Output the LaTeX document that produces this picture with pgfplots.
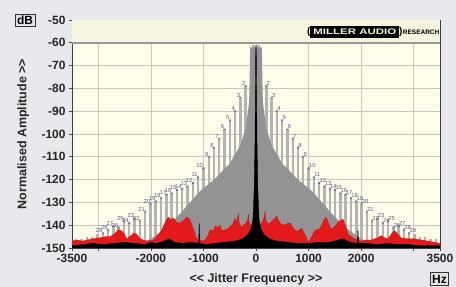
\documentclass[border=0pt]{standalone}
\usepackage{pgfplots}
\pgfplotsset{compat=1.18}
\usepackage{fontspec}
\setmainfont{Liberation Sans}
\definecolor{bgc}{HTML}{E9E9ED}
\definecolor{cream}{HTML}{FFFDEA}
\definecolor{hdr}{HTML}{F6F4DE}
\definecolor{gridc}{HTML}{C8C8C2}
\definecolor{spk}{HTML}{B3B3B3}
\definecolor{midg}{HTML}{939393}
\definecolor{redc}{HTML}{E3191C}
\definecolor{lbl}{HTML}{5A5A92}

\pgfplotstableread{
x y e
-3420 -146 4
-3319 -146 4
-3218 -145 5
-3117 -145 5
-3016 -144 6
-2915 -143.5 6.5
-2814 -142 8
-2713 -140.5 9.5
-2613 -141 9
-2512 -138 12
-2411 -139 11
-2311 -137 13
-2210 -138 12
-2109 -134 16
-2008 -130.5 19.5
-1908 -129.5 20.5
-1807 -128 22
-1705 -126.5 23.5
-1604 -126 24
-1505 -124.5 25.5
-1404 -124 26
-1304 -123 27
-1203 -121.5 28.5
-1102 -119 31
-1002 -115 35
-899 -110 40
-800 -106 44
-699 -102 48
-599 -98 52
-498 -94 56
-397 -90 60
-297 -84 66
-196 -79 71
-100 -63 87
-45 -61 89
45 -61 89
100 -63 87
196 -79 71
297 -84 66
397 -90 60
498 -94 56
599 -98 52
699 -102 48
800 -106 44
899 -110 40
1002 -115 35
1102 -119 31
1203 -121.5 28.5
1304 -123 27
1404 -124 26
1505 -124.5 25.5
1604 -126 24
1705 -126.5 23.5
1807 -128 22
1908 -129.5 20.5
2008 -130.5 19.5
2109 -134 16
2210 -138 12
2311 -137 13
2411 -139 11
2512 -138 12
2613 -141 9
2713 -140.5 9.5
2814 -142 8
2915 -143.5 6.5
3016 -144 6
3117 -145 5
3218 -145 5
3319 -146 4
3420 -146 4
}\spikes

\pgfplotstableread{
x y n
-2915 -143.5 29
-2814 -142 28
-2713 -140.5 27
-2613 -141 26
-2512 -138 25
-2411 -139 24
-2311 -137 23
-2210 -138 22
-2109 -134 21
-2008 -130.5 20
-1908 -129.5 19
-1807 -128 18
-1705 -126.5 17
-1604 -126 16
-1505 -124.5 15
-1404 -124 14
-1304 -123 13
-1203 -121.5 12
-1102 -119 11
-1002 -115 10
-899 -110 9
-800 -106 8
-699 -102 7
-599 -98 6
-498 -94 5
-397 -90 4
-297 -84 3
-196 -79 2
}\leftlabels

\pgfplotstableread{
x y n
196 -79 2
297 -84 3
397 -90 4
498 -94 5
599 -98 6
699 -102 7
800 -106 8
899 -110 9
1002 -115 10
1102 -119 11
1203 -121.5 12
1304 -123 13
1404 -124 14
1505 -124.5 15
1604 -126 16
1705 -126.5 17
1807 -128 18
1908 -129.5 19
2008 -130.5 20
2109 -134 21
2210 -138 22
2311 -137 23
2411 -139 24
2512 -138 25
2613 -141 26
2713 -140.5 27
2814 -142 28
2915 -143.5 29
}\rightlabels

\pgfplotstableread{
x y
-2600 -151
-2300 -149
-2000 -146
-1700 -141
-1445 -135
-1065 -125
-800 -120
-500 -113
-300 -105
-200 -98
-130 -86
-110 -62
110 -62
130 -86
200 -98
300 -105
500 -113
800 -120
1065 -125
1445 -135
1700 -141
2000 -146
2300 -149
2600 -151
}\midfill

\pgfplotstableread{
x y
-3500 -151
-3500 -147
-3400 -146.5
-3300 -147
-3220 -146.5
-3100 -146
-2966 -145.5
-2850 -145
-2776 -145
-2700 -144
-2617 -142
-2554 -142.5
-2500 -144
-2459 -146
-2400 -145
-2332 -143.5
-2269 -144
-2200 -146
-2079 -147
-1950 -146.5
-1888 -145
-1800 -142.5
-1762 -140.5
-1700 -137.5
-1667 -136.5
-1620 -137.5
-1572 -137
-1500 -139
-1445 -139
-1380 -138
-1318 -136.5
-1270 -137
-1223 -139.5
-1170 -143
-1128 -146
-1001 -147
-950 -146
-906 -144.3
-875 -142
-811 -142.5
-780 -140.5
-720 -141
-684 -140
-652 -142.5
-589 -142
-532 -141.5
-494 -140.7
-440 -139.5
-399 -137
-370 -139
-336 -135
-320 -139
-280 -141
-241 -140
-190 -139
-160 -138
-146 -135
-130 -139
-100 -140
-51 -140
0 -140
40 -140
76 -140
120 -138.5
150 -137
171 -134
190 -138
230 -139.5
266 -139
320 -138
360 -137
393 -136
430 -138
470 -139.5
520 -140
580 -139.5
646 -139
700 -141
773 -142.8
830 -142
868 -141.4
930 -144
995 -147.5
1020 -146.8
1070 -144.5
1115 -142.4
1160 -142
1210 -141.7
1270 -139
1310 -137
1337 -136.5
1380 -139
1432 -142
1500 -140.5
1559 -138.7
1610 -138
1654 -137.3
1700 -140
1749 -143.9
1810 -145
1876 -146
2002 -147
2100 -146.5
2200 -146.5
2256 -146
2320 -145.5
2382 -144.6
2440 -145.5
2509 -146
2570 -144
2636 -142.4
2700 -144
2762 -145.6
2900 -146
3017 -146
3150 -146.5
3270 -147
3400 -147.5
3500 -148
3500 -151
}\redfill

\pgfplotstableread{
x y
-3500 -151
-3500 -149
-3300 -148.5
-3100 -148
-2900 -148.5
-2700 -148
-2500 -147.5
-2300 -148
-2100 -148.5
-2000 -147.5
-1900 -148
-1750 -147
-1650 -146
-1550 -147.5
-1400 -148
-1250 -147.5
-1090 -148
-1080 -139
-1070 -148
-950 -148.5
-800 -148
-600 -147.5
-400 -147
-250 -146
-150 -144
-100 -142
-60 -138
-35 -125
-20 -105
-10 -80
-5 -63
0 -61
5 -63
10 -80
20 -105
35 -125
60 -138
100 -142
150 -144
250 -146
400 -147
600 -147.5
800 -148
1000 -148
1200 -147.5
1400 -147.5
1650 -146
1800 -147.5
1930 -148
1940 -142
1950 -148
2100 -148
2300 -148.5
2500 -148
2700 -148.5
2900 -148.5
3100 -149
3300 -149
3500 -149
3500 -151
}\blackfill

\begin{document}
\begin{tikzpicture}
\fill[bgc] (0,0) rectangle (456bp,287bp);
\useasboundingbox (0,0) rectangle (456bp,287bp);
\begin{axis}[
  at={(72bp,39bp)}, anchor=south west,
  scale only axis, width=368bp, height=228bp,
  xmin=-3500, xmax=3500, ymin=-150, ymax=-50,
  xtick={-3500,-3000,-2000,-1000,0,1000,2000,3000,3500},
  xticklabels={-3500,,-2000,-1000,0,1000,2000,,3500},
  ytick={-150,-140,...,-50},
  grid=major, major grid style={gridc, line width=0.6bp},
  axis background/.style={fill=cream},
  axis line style={black!75, line width=0.8bp},
  tick align=outside, major tick length=3bp,
  tick style={black!70, line width=0.6bp},
  xtick pos=bottom, ytick pos=left,
  /pgf/number format/assume math mode=true,
  /pgf/number format/1000 sep={},
  ticklabel style={font=\fontsize{12}{12}\selectfont\bfseries, text=black!85},
  xlabel={<{}< Jitter Frequency >{}>},
  ylabel={Normalised Amplitude >{}>},
  xlabel style={font=\fontsize{12.5}{13}\selectfont\bfseries, text=black!85, at={(axis description cs:0.5,-0.136)}, anchor=center},
  ylabel style={font=\fontsize{12.5}{13}\selectfont\bfseries, text=black!85, at={(axis description cs:-0.133,0.5)}, anchor=center},
  clip=true,
]
% header band
\fill[hdr] (axis cs:-3500,-60) rectangle (axis cs:3500,-50);
\draw[black!40, line width=1.6bp] (axis cs:-3500,-60) -- (axis cs:3500,-60);
\node[anchor=center, inner sep=1pt] at (axis cs:2230,-55.2)
  {\fontsize{10}{10}\selectfont\bfseries\textcolor{black}{(}\colorbox{black}{\textcolor{hdr}{\scalebox{1.15}[0.8]{MILLER AUDIO}}}\textcolor{black}{)}\hspace{0.5pt}\fontsize{6.5}{7}\selectfont RESEARCH};
% light gray spikes
\addplot[draw=none, mark=none, forget plot,
  error bars/.cd, y dir=minus, y explicit,
  error mark=none, error bar style={spk, line width=2.4bp}]
  table[x=x, y=y, y error=e] {\spikes};
% medium gray fill
\addplot[fill=midg, draw=none, forget plot] table[x=x, y=y] {\midfill};
% peak markers and labels
\addplot[only marks, mark=x, mark size=1.3bp, lbl, line width=0.4bp,
  nodes near coords, point meta=explicit symbolic,
  every node near coord/.append style={font=\fontsize{5.8}{6}\selectfont, text=lbl, anchor=south east, inner sep=0.2pt}]
  table[x=x, y=y, meta=n] {\leftlabels};
\addplot[only marks, mark=x, mark size=1.3bp, lbl, line width=0.4bp,
  nodes near coords, point meta=explicit symbolic,
  every node near coord/.append style={font=\fontsize{5.8}{6}\selectfont, text=lbl, anchor=south west, inner sep=0.2pt}]
  table[x=x, y=y, meta=n] {\rightlabels};
% red
\addplot[fill=redc, draw=redc!80!black, line width=0.3bp] table[x=x, y=y] {\redfill};
% black
\addplot[fill=black, draw=black, line width=0.4bp] table[x=x, y=y] {\blackfill};
\end{axis}
\node[draw=black!80, fill=black!10, line width=0.8bp, inner sep=2pt, font=\fontsize{12}{12}\selectfont\bfseries] at (25bp,266.5bp) {dB};
\node[draw=black!80, fill=black!10, line width=0.8bp, inner sep=2pt, font=\fontsize{12}{12}\selectfont\bfseries] at (439.5bp,8bp) {Hz};
\end{tikzpicture}
\end{document}
